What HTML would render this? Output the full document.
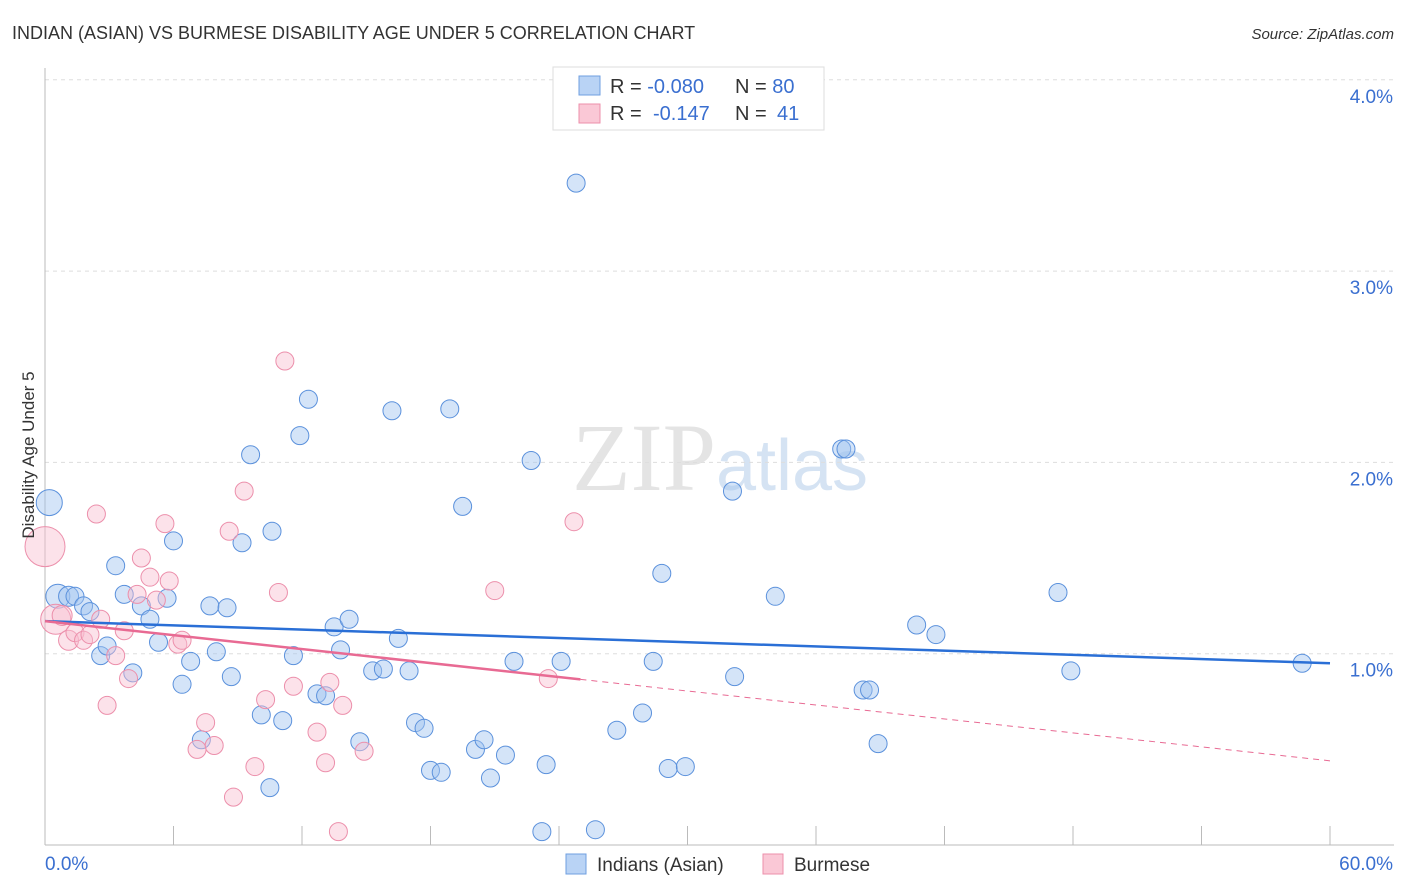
<!DOCTYPE html>
<html><head><meta charset="utf-8"><style>
body{margin:0;background:#fff;font-family:"Liberation Sans",sans-serif}
svg{display:block}
</style></head><body>
<svg id="chart" width="1406" height="892" viewBox="0 0 1406 892">
<text x="12" y="39" font-size="18" fill="#333" font-family="Liberation Sans, sans-serif">INDIAN (ASIAN) VS BURMESE DISABILITY AGE UNDER 5 CORRELATION CHART</text>
<text x="1394" y="39" font-size="15" font-style="italic" fill="#333" text-anchor="end">Source: ZipAtlas.com</text>
<text x="720" y="490" font-size="96" text-anchor="middle" fill="#e4e4e4" font-family="Liberation Serif, serif">ZIP<tspan fill="#d5e3f3" font-family="Liberation Sans, sans-serif" font-size="72">atlas</tspan></text>
<g id="grid"></g>
<g id="axes"></g>
<g id="pts"></g>
<g id="trends"></g>
<text transform="translate(34,455) rotate(-90)" font-size="17" fill="#333" text-anchor="middle">Disability Age Under 5</text>
<g>
<rect x="553" y="67" width="271" height="63" fill="#fff" stroke="#ddd"/>
<rect x="579" y="76" width="21" height="19" fill="#b9d3f5" stroke="#6f9fe0"/>
<rect x="579" y="104" width="21" height="19" fill="#fac8d6" stroke="#ec8fab"/>
<text x="610" y="93" font-size="20" fill="#333">R = <tspan fill="#3a6fd0">-0.080</tspan><tspan x="735">N = </tspan><tspan fill="#3a6fd0">80</tspan></text>
<text x="610" y="120" font-size="20" fill="#333">R = <tspan x="653" fill="#3a6fd0">-0.147</tspan><tspan x="735">N = </tspan><tspan x="777" fill="#3a6fd0">41</tspan></text>
</g>
<g>
<rect x="566" y="854" width="20" height="20" fill="#b9d3f5" stroke="#6f9fe0"/>
<text x="597" y="871" font-size="19" fill="#333">Indians (Asian)</text>
<rect x="763" y="854" width="20" height="20" fill="#fac8d6" stroke="#ec8fab"/>
<text x="794" y="871" font-size="19" fill="#333">Burmese</text>
</g>
</svg>
<script>
const xTicks=[0,60];
const yTicks=[1,2,3,4];
const blueX=[0.2,0.6,1.1,1.4,1.8,2.1,2.6,2.9,3.3,3.7,4.1,4.5,4.9,5.3,5.7,6.0,6.4,6.8,7.3,7.7,8.0,8.5,8.7,9.2,9.6,10.1,10.5,10.6,11.1,11.6,11.9,12.3,12.7,13.1,13.5,13.8,14.2,14.7,15.3,15.8,16.2,16.5,17.0,17.3,17.7,18.0,18.5,18.9,19.5,20.1,20.5,20.8,21.5,21.9,22.7,23.2,23.4,24.1,24.8,25.7,26.7,27.9,28.4,28.8,29.1,29.9,32.1,32.2,34.1,37.2,37.4,38.2,38.5,38.9,40.7,41.6,47.3,47.9,58.7];
const blueY=[1.79,1.30,1.30,1.30,1.25,1.22,0.99,1.04,1.46,1.31,0.90,1.25,1.18,1.06,1.29,1.59,0.84,0.96,0.55,1.25,1.01,1.24,0.88,1.58,2.04,0.68,0.30,1.64,0.65,0.99,2.14,2.33,0.79,0.78,1.14,1.02,1.18,0.54,0.91,0.92,2.27,1.08,0.91,0.64,0.61,0.39,0.38,2.28,1.77,0.50,0.55,0.35,0.47,0.96,2.01,0.07,0.42,0.96,3.46,0.08,0.60,0.69,0.96,1.42,0.40,0.41,1.85,0.88,1.30,2.07,2.07,0.81,0.81,0.53,1.15,1.10,1.32,0.91,0.95];
const blueR=[13,12,10,9,9,9,9,9,9,9,9,9,9,9,9,9,9,9,9,9,9,9,9,9,9,9,9,9,9,9,9,9,9,9,9,9,9,9,9,9,9,9,9,9,9,9,9,9,9,9,9,9,9,9,9,9,9,9,9,9,9,9,9,9,9,9,9,9,9,9,9,9,9,9,9,9,9,9,9];
const pinkX=[0.0,0.5,0.8,1.1,1.4,1.8,2.1,2.4,2.6,2.9,3.3,3.7,3.9,4.3,4.5,4.9,5.2,5.6,5.8,6.2,6.4,7.1,7.5,7.9,8.6,8.8,9.3,9.8,10.3,10.9,11.2,11.6,12.7,13.1,13.3,13.7,13.9,14.9,21.0,23.5,24.7];
const pinkY=[1.56,1.18,1.20,1.07,1.11,1.07,1.10,1.73,1.18,0.73,0.99,1.12,0.87,1.31,1.50,1.40,1.28,1.68,1.38,1.05,1.07,0.50,0.64,0.52,1.64,0.25,1.85,0.41,0.76,1.32,2.53,0.83,0.59,0.43,0.85,0.07,0.73,0.49,1.33,0.87,1.69];
const pinkR=[20,15,10,10,9,9,9,9,9,9,9,9,9,9,9,9,9,9,9,9,9,9,9,9,9,9,9,9,9,9,9,9,9,9,9,9,9,9,9,9,9];
const blueTrend=[1.17,0.95];
const pinkTrend=[1.17,0.44];
const pinkSolidEnd=25;
const NS='http://www.w3.org/2000/svg';
const X=v=>45+v/60*1285, Y=v=>845-v*191.3;
function mk(t,a,p){const e=document.createElementNS(NS,t);for(const k in a)e.setAttribute(k,a[k]);p.appendChild(e);return e;}
const grid=document.getElementById('grid'),axes=document.getElementById('axes');
yTicks.forEach(t=>{
 const l=mk('line',{x1:45,x2:1394,y1:Y(t),y2:Y(t),stroke:'#ddd','stroke-dasharray':'4,4'},grid);
 
 
 const tx=mk('text',{x:1393,y:Y(t)+23,'font-size':19,fill:'#3a6fd0','text-anchor':'end'},axes);
 tx.textContent=t.toFixed(1)+'%';
 
 
});
mk('line',{x1:45,x2:45,y1:68,y2:845,stroke:'#bbb'},axes);
mk('line',{x1:45,x2:1394,y1:845,y2:845,stroke:'#bbb'},axes);
for(let i=1;i<=10;i++){const tk=mk('line',{x1:X(i*6),x2:X(i*6),y1:826,y2:845,stroke:'#bbb'},axes);
 
 }
xTicks.forEach((t,i)=>{const tx=mk('text',{x:i?1393:45,y:870,'font-size':19,fill:'#3a6fd0','text-anchor':i?'end':'start'},axes);
 tx.textContent=t.toFixed(1)+'%';
 
 });
const pts=document.getElementById('pts');
blueX.forEach((v,i)=>{const c=mk('circle',{cx:X(v),cy:Y(blueY[i]),r:blueR[i],fill:'rgba(160,195,240,0.45)',stroke:'#5b91dc','stroke-width':1},pts);
 
 });
pinkX.forEach((v,i)=>{const c=mk('circle',{cx:X(v),cy:Y(pinkY[i]),r:pinkR[i],fill:'rgba(248,190,208,0.45)',stroke:'#ec8fab','stroke-width':1},pts);
 
 });
const tr=document.getElementById('trends');
const bl=mk('line',{x1:X(0),y1:Y(blueTrend[0]),x2:X(60),y2:Y(blueTrend[1]),stroke:'#2a6fd6','stroke-width':2.5},tr);


const pe=pinkTrend[0]+(pinkTrend[1]-pinkTrend[0])*pinkSolidEnd/60;
const pl=mk('line',{x1:X(0),y1:Y(pinkTrend[0]),x2:X(pinkSolidEnd),y2:Y(pe),stroke:'#e86a93','stroke-width':2.5},tr);


const pd=mk('line',{x1:X(pinkSolidEnd),y1:Y(pe),x2:X(60),y2:Y(pinkTrend[1]),stroke:'#e86a93','stroke-width':1,'stroke-dasharray':'6,5'},tr);


</script>
</body></html>
